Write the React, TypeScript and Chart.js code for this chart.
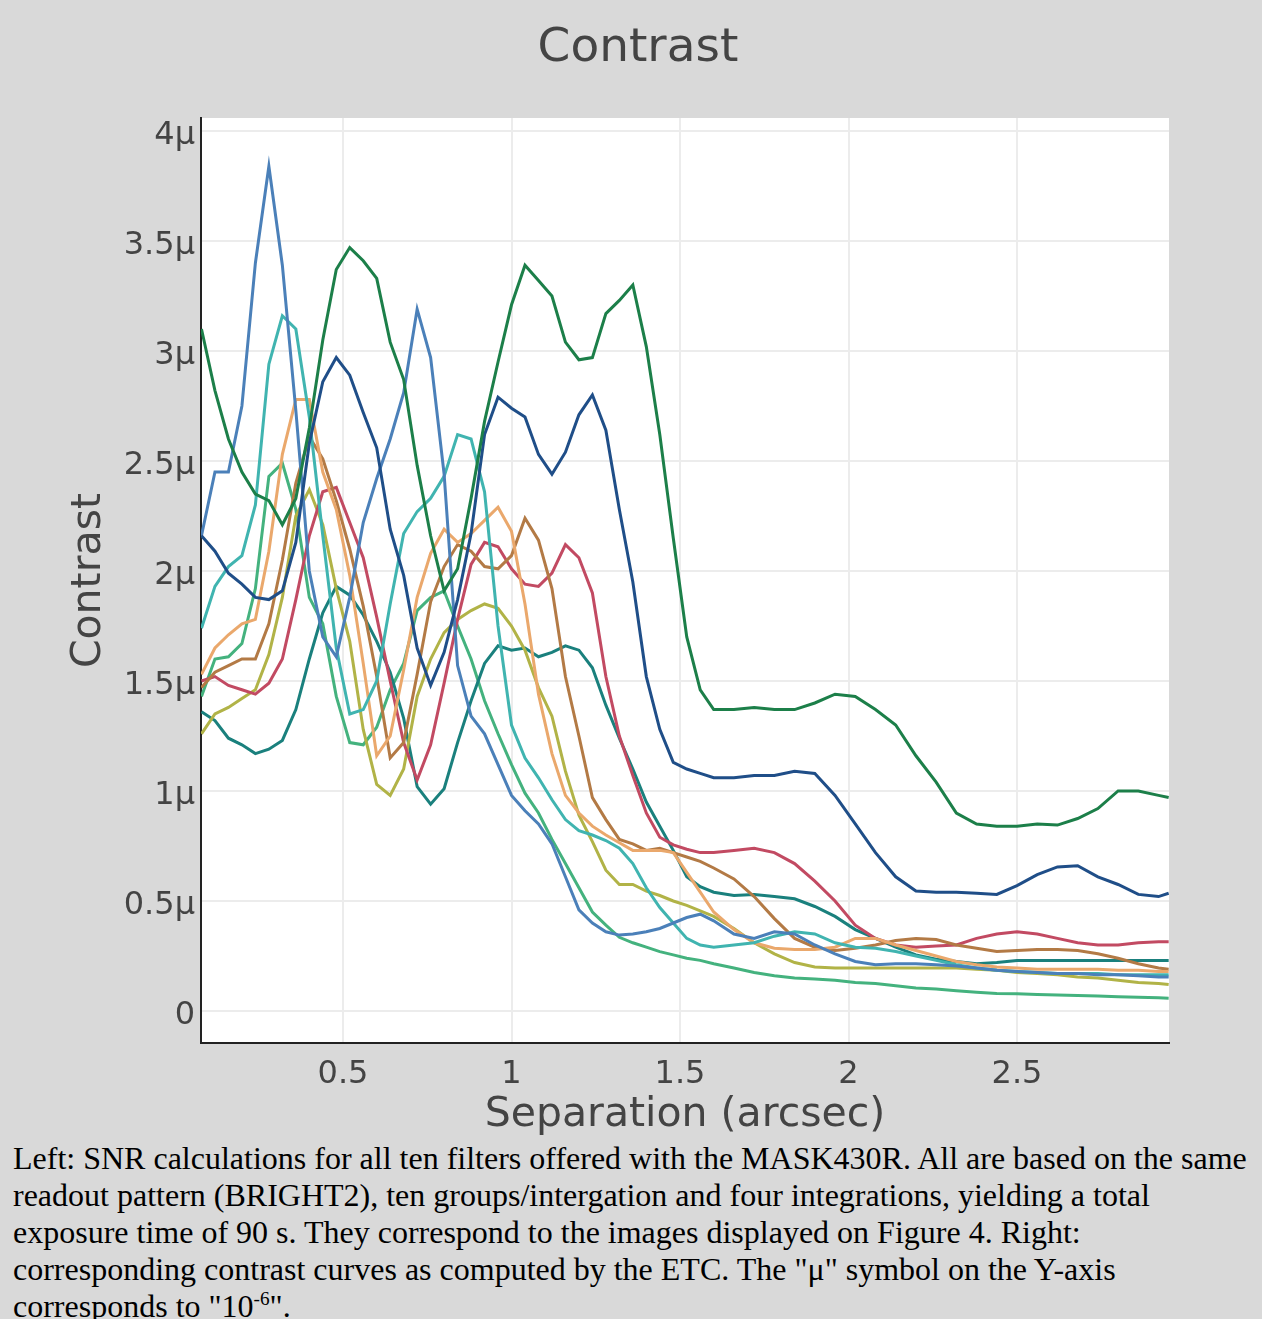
import React, { useEffect, useRef } from "react";
import { Chart, registerables } from "chart.js";

Chart.register(...registerables);

// Separation (arcsec) sample positions
const separation = [
  0.08, 0.12, 0.16, 0.2, 0.24, 0.28, 0.32, 0.36, 0.4, 0.44,
  0.48, 0.52, 0.56, 0.6, 0.64, 0.68, 0.72, 0.76, 0.8, 0.84,
  0.88, 0.92, 0.96, 1.0, 1.04, 1.08, 1.12, 1.16, 1.2, 1.24,
  1.28, 1.32, 1.36, 1.4, 1.44, 1.48, 1.52, 1.56, 1.6,
  1.66, 1.72, 1.78, 1.84, 1.9, 1.96, 2.02, 2.08, 2.14, 2.2,
  2.26, 2.32, 2.38, 2.44, 2.5, 2.56, 2.62, 2.68, 2.74, 2.8,
  2.86, 2.92, 2.95,
];

// Contrast values in units of 1e-6 (μ)
const darkGreen = [
  3.1, 2.82, 2.6, 2.45, 2.35, 2.32, 2.21, 2.33, 2.65, 3.05,
  3.37, 3.47, 3.41, 3.33, 3.04, 2.87, 2.48, 2.16, 1.91, 2.01,
  2.33, 2.68, 2.95, 3.21, 3.39, 3.32, 3.25, 3.04, 2.96, 2.97,
  3.17, 3.23, 3.3, 3.02, 2.62, 2.15, 1.7, 1.46, 1.37,
  1.37, 1.38, 1.37, 1.37, 1.4, 1.44, 1.43, 1.37, 1.3, 1.16,
  1.04, 0.9, 0.85, 0.84, 0.84, 0.85, 0.845, 0.875, 0.92, 1.0,
  1.0, 0.98, 0.97,
];
const darkBlue = [
  2.16, 2.09, 1.99, 1.94, 1.88, 1.87, 1.91, 2.13, 2.58, 2.86,
  2.97, 2.89, 2.72, 2.56, 2.19, 1.98, 1.65, 1.48, 1.63, 1.87,
  2.17, 2.62, 2.79, 2.74, 2.7, 2.53, 2.44, 2.54, 2.71, 2.8,
  2.64, 2.28, 1.95, 1.52, 1.28, 1.13, 1.1, 1.08, 1.06,
  1.06, 1.07, 1.07, 1.09, 1.08, 0.98, 0.85, 0.72, 0.61, 0.545,
  0.54, 0.54, 0.535, 0.53, 0.57, 0.62, 0.655, 0.66, 0.61, 0.575,
  0.53, 0.52, 0.535,
];
const steelBlue = [
  2.16, 2.45, 2.45, 2.75, 3.4, 3.84, 3.39, 2.73, 2.0, 1.7,
  1.61, 1.88, 2.22, 2.42, 2.6, 2.81, 3.19, 2.97, 2.44, 1.57,
  1.34, 1.26, 1.12, 0.98, 0.91, 0.85, 0.76, 0.61, 0.46, 0.4,
  0.36, 0.345, 0.35, 0.36, 0.375, 0.4, 0.425, 0.44, 0.41,
  0.35, 0.33, 0.36, 0.35, 0.3, 0.26, 0.225, 0.21, 0.215, 0.215,
  0.21, 0.205, 0.195, 0.185, 0.18, 0.175, 0.17, 0.17, 0.165, 0.165,
  0.16, 0.155, 0.155,
];
const turquoise = [
  1.74, 1.93, 2.02, 2.07, 2.3, 2.94, 3.16, 3.1, 2.7, 2.16,
  1.65, 1.35, 1.37, 1.5, 1.85, 2.17, 2.27, 2.33, 2.43, 2.62,
  2.6, 2.36, 1.75, 1.3, 1.15, 1.06, 0.96, 0.87, 0.82, 0.8,
  0.775, 0.74, 0.67, 0.56, 0.47, 0.4, 0.33, 0.3, 0.29,
  0.3, 0.31, 0.34, 0.36, 0.35, 0.31, 0.29, 0.285, 0.27, 0.25,
  0.23, 0.21, 0.195, 0.185, 0.18, 0.175, 0.17, 0.17, 0.17, 0.165,
  0.165, 0.165, 0.165,
];
const lightOrange = [
  1.53, 1.65, 1.71, 1.76, 1.78, 2.09, 2.53, 2.78, 2.78, 2.45,
  2.28, 1.98, 1.58, 1.16, 1.25, 1.55, 1.88, 2.08, 2.19, 2.13,
  2.17, 2.23, 2.29, 2.18, 1.85, 1.44, 1.17, 0.98, 0.9, 0.84,
  0.8, 0.765, 0.73, 0.73, 0.73, 0.72, 0.63, 0.54, 0.45,
  0.37, 0.31, 0.285, 0.28, 0.28, 0.29, 0.33, 0.33, 0.3, 0.275,
  0.25, 0.225, 0.21, 0.2, 0.195, 0.19, 0.19, 0.19, 0.19, 0.185,
  0.185, 0.18, 0.18,
];
const brown = [
  1.47, 1.54, 1.57, 1.6, 1.6, 1.76, 2.05, 2.4, 2.61, 2.51,
  2.32, 2.1, 1.84, 1.52, 1.15, 1.22, 1.53, 1.86, 2.02, 2.12,
  2.09, 2.02, 2.01, 2.07, 2.24, 2.14, 1.92, 1.52, 1.25, 0.97,
  0.87, 0.78, 0.76, 0.73, 0.74, 0.72, 0.7, 0.68, 0.65,
  0.6, 0.52, 0.42, 0.33, 0.29, 0.275, 0.285, 0.3, 0.32, 0.33,
  0.325, 0.3, 0.285, 0.27, 0.275, 0.28, 0.28, 0.275, 0.26, 0.24,
  0.215, 0.195, 0.19,
];
const crimson = [
  1.5, 1.52, 1.48, 1.46, 1.44, 1.49, 1.6, 1.87, 2.16, 2.36,
  2.38, 2.22, 2.06, 1.79, 1.5, 1.22, 1.05, 1.21, 1.49, 1.78,
  2.03, 2.13, 2.11, 2.01, 1.94, 1.93, 1.99, 2.12, 2.06, 1.9,
  1.52, 1.25, 1.07, 0.9, 0.79, 0.755, 0.735, 0.72, 0.72,
  0.73, 0.74, 0.72, 0.67, 0.59, 0.5, 0.39, 0.33, 0.3, 0.29,
  0.295, 0.3, 0.33, 0.35, 0.36, 0.35, 0.33, 0.31, 0.3, 0.3,
  0.31, 0.315, 0.315,
];
const olive = [
  1.26, 1.35, 1.38, 1.42, 1.46, 1.62, 1.88, 2.25, 2.37, 2.21,
  1.92, 1.68, 1.28, 1.03, 0.98, 1.1, 1.43, 1.6, 1.72, 1.78,
  1.82, 1.85, 1.83, 1.75, 1.64, 1.47, 1.34, 1.09, 0.89, 0.77,
  0.64, 0.575, 0.575, 0.545, 0.525, 0.5, 0.48, 0.455, 0.43,
  0.375, 0.31, 0.26, 0.22, 0.2, 0.195, 0.195, 0.195, 0.195, 0.195,
  0.195, 0.195, 0.19, 0.185, 0.175, 0.17, 0.165, 0.155, 0.15, 0.14,
  0.13, 0.125, 0.12,
];
const darkTeal = [
  1.36, 1.32, 1.24, 1.21, 1.17, 1.19, 1.23, 1.37, 1.6, 1.81,
  1.93, 1.89, 1.8, 1.68, 1.54, 1.33, 1.02, 0.94, 1.01, 1.22,
  1.41, 1.58, 1.66, 1.64, 1.65, 1.61, 1.63, 1.66, 1.64, 1.56,
  1.39, 1.24, 1.1, 0.95, 0.84, 0.73, 0.61, 0.565, 0.54,
  0.525, 0.53, 0.52, 0.51, 0.475, 0.43, 0.37, 0.33, 0.29, 0.255,
  0.235, 0.225, 0.215, 0.22, 0.23, 0.23, 0.23, 0.23, 0.23, 0.23,
  0.23, 0.23, 0.23,
];
const seaGreen = [
  1.43, 1.6, 1.61, 1.67, 1.92, 2.43, 2.49, 2.28, 1.88, 1.76,
  1.43, 1.22, 1.21, 1.29, 1.46, 1.58, 1.82, 1.88, 1.91, 1.75,
  1.6, 1.41, 1.26, 1.12, 0.99, 0.9, 0.78, 0.67, 0.56, 0.45,
  0.39, 0.335, 0.31, 0.29, 0.27, 0.255, 0.24, 0.23, 0.215,
  0.195, 0.175, 0.16, 0.15, 0.145, 0.14, 0.13, 0.125, 0.115, 0.105,
  0.1, 0.092, 0.085, 0.08, 0.078, 0.075, 0.073, 0.07, 0.068, 0.065,
  0.062, 0.06, 0.058,
];

const seriesValues = [
  darkGreen, darkBlue, steelBlue, turquoise, lightOrange,
  brown, crimson, olive, darkTeal, seaGreen,
];
const seriesNames = [
  "dark green", "dark blue", "steel blue", "turquoise", "light orange",
  "brown", "crimson", "olive", "dark teal", "sea green",
];
const seriesColors = [
  "#1c7f49", "#1f4e88", "#4b80b9", "#40b4b0", "#eaa86c",
  "#b37a45", "#c24a62", "#b1b347", "#1a807d", "#44b27e",
];

const xTickValues = [0.5, 1, 1.5, 2, 2.5];
const yTickValues = [0, 0.5, 1, 1.5, 2, 2.5, 3, 3.5, 4];
const chartTitle = "Contrast";

const FONT = '"DejaVu Sans", Verdana, sans-serif';
const TEXT = "#444";

const plotBackground = {
  id: "plotBackground",
  beforeDraw(chart: any) {
    const { ctx, chartArea } = chart;
    if (!chartArea) return;
    ctx.save();
    ctx.fillStyle = "#ffffff";
    ctx.fillRect(chartArea.left, chartArea.top, chartArea.right - chartArea.left, chartArea.bottom - chartArea.top);
    ctx.restore();
  },
};

const figureTitle = {
  id: "figureTitle",
  afterDraw(chart: any) {
    const { ctx } = chart;
    ctx.save();
    ctx.font = `normal 47px ${FONT}`;
    ctx.fillStyle = TEXT;
    ctx.textAlign = "center";
    ctx.textBaseline = "middle";
    ctx.fillText(chartTitle, 638, 49);
    ctx.restore();
  },
};

function ContrastChart() {
  const ref = useRef<HTMLCanvasElement | null>(null);
  useEffect(() => {
    if (!ref.current) return;
    const datasets = seriesValues.map((vals, k) => ({
      label: seriesNames[k],
      data: separation.map((x, i) => ({ x, y: vals[i] })),
      borderColor: seriesColors[k],
      backgroundColor: seriesColors[k],
      borderWidth: 3,
      pointRadius: 0,
      tension: 0,
      fill: false,
    }));
    const chart = new Chart(ref.current, {
      type: "line",
      data: { datasets },
      plugins: [plotBackground, figureTitle],
      options: {
        animation: false,
        responsive: true,
        maintainAspectRatio: false,
        devicePixelRatio: 1,
        layout: { padding: { left: 0, right: 93, top: 118, bottom: 0 } },
        plugins: {
          legend: { display: false },
          tooltip: { enabled: false },
          title: { display: false },
        },
        scales: {
          x: {
            type: "linear",
            min: 0.0786,
            max: 2.951,
            afterBuildTicks: (s: any) => {
              s.ticks = xTickValues.map((v) => ({ value: v }));
            },
            afterFit: (s: any) => {
              s.height = 97;
            },
            ticks: {
              autoSkip: false,
              maxRotation: 0,
              padding: 12,
              color: TEXT,
              font: { family: FONT, size: 32 },
              callback: (v: any) => String(v),
            },
            grid: { color: "#ececec", lineWidth: 2, drawTicks: false },
            border: { display: true, color: "#222", width: 2 },
            title: {
              display: true,
              text: "Separation (arcsec)",
              color: TEXT,
              font: { family: FONT, size: 41 },
              padding: { top: 0, bottom: 0 },
            },
          },
          y: {
            type: "linear",
            min: -0.1455,
            max: 4.059,
            afterBuildTicks: (s: any) => {
              s.ticks = yTickValues.map((v) => ({ value: v }));
            },
            afterFit: (s: any) => {
              s.width = 201;
            },
            ticks: {
              padding: 6,
              labelOffset: 5,
              color: TEXT,
              font: { family: FONT, size: 32 },
              callback: (v: any) => (v === 0 ? "0" : v + "μ"),
            },
            grid: { color: "#ececec", lineWidth: 2, drawTicks: false },
            border: { display: true, color: "#222", width: 2 },
            title: {
              display: true,
              text: "Contrast",
              color: TEXT,
              font: { family: FONT, size: 41 },
              padding: { top: 65, bottom: 0 },
            },
          },
        },
      },
    } as any);
    return () => chart.destroy();
  }, []);
  return (
    <div style={{ position: "relative", width: 1262, height: 1140 }}>
      <canvas ref={ref} />
    </div>
  );
}

export default function App() {
  useEffect(() => {
    document.body.style.margin = "0";
    document.body.style.background = "#d9d9d9";
  }, []);
  return (
    <div style={{ background: "#d9d9d9", width: 1262, minHeight: 1319, overflow: "hidden" }}>
      <ContrastChart />
      <div
        style={{
          fontFamily: '"Liberation Serif", "Times New Roman", serif',
          fontSize: 32,
          lineHeight: "37px",
          color: "#000",
          paddingLeft: 13,
          whiteSpace: "nowrap",
        }}
      >
        Left: SNR calculations for all ten filters offered with the MASK430R. All are based on the same
        <br />
        readout pattern (BRIGHT2), ten groups/intergation and four integrations, yielding a total
        <br />
        exposure time of 90 s. They correspond to the images displayed on Figure 4. Right:
        <br />
        corresponding contrast curves as computed by the ETC. The "μ" symbol on the Y-axis
        <br />
        corresponds to "10<sup style={{ fontSize: "0.6em", lineHeight: 0 }}>-6</sup>".
      </div>
    </div>
  );
}
